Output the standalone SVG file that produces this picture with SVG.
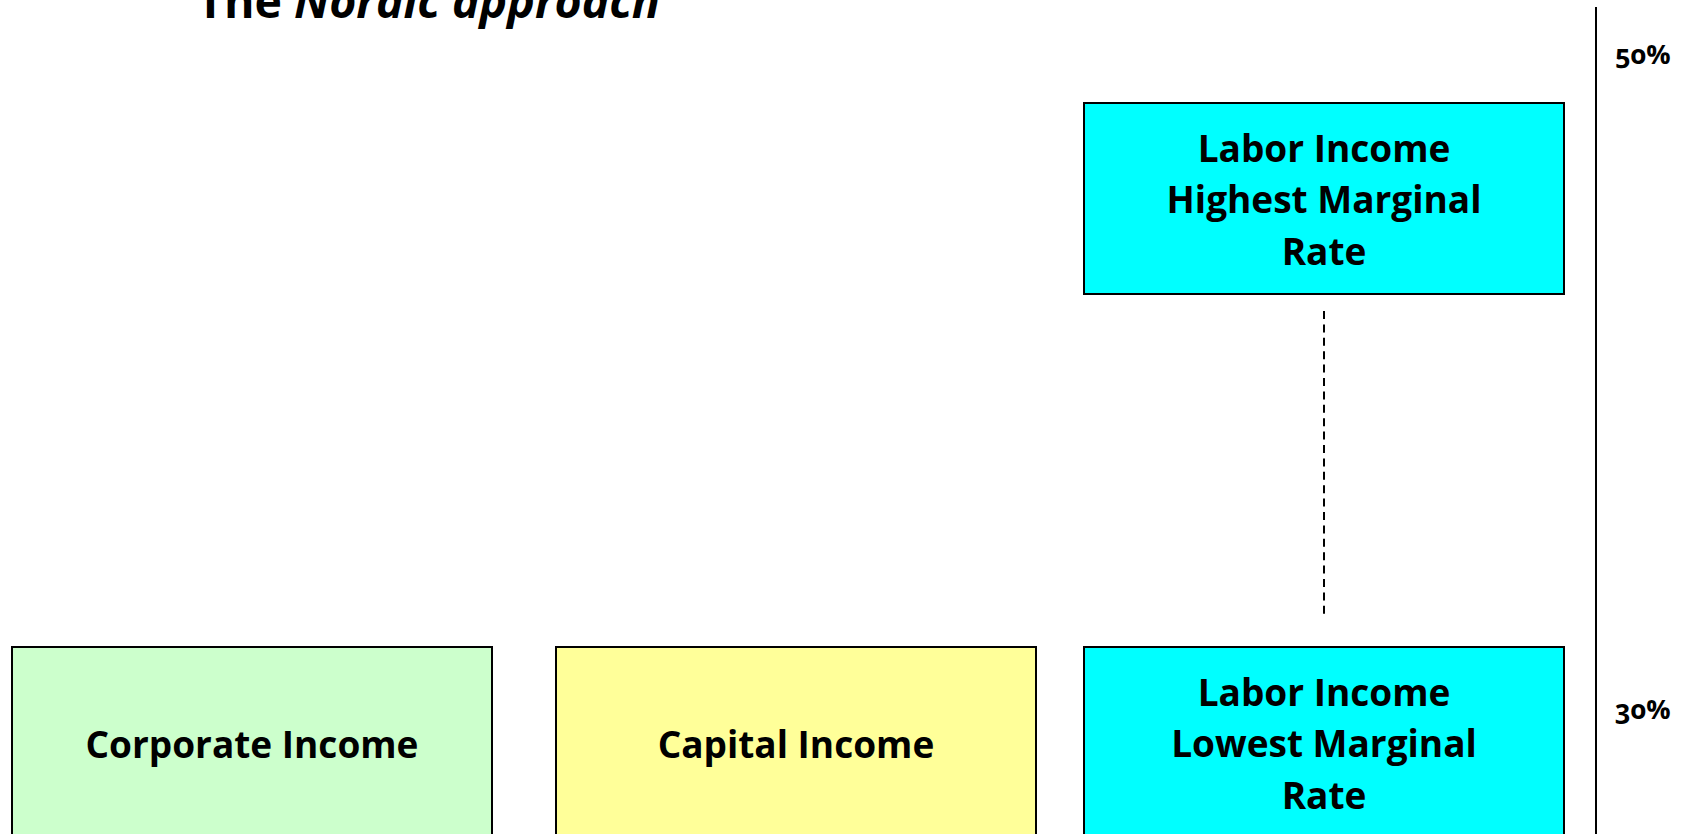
<svg xmlns="http://www.w3.org/2000/svg" width="1685" height="834" viewBox="0 0 1685 834">
<style>
.box{stroke:#000;stroke-width:2}
.lbl{font-family:"Open Sans","Noto Sans",sans-serif;font-weight:bold;font-size:37px;fill:#000;text-anchor:middle}
.pct{font-family:"Open Sans","Noto Sans",sans-serif;font-weight:bold;font-size:27px;fill:#000;font-variant-numeric:oldstyle-nums}
</style>
<rect width="1685" height="834" fill="#fff"/>
<g id="title"><text x="197" y="18" font-family="'Open Sans','Noto Sans',sans-serif" font-weight="bold" font-size="46.5" fill="#000">The <tspan font-style="italic">Nordic approach</tspan></text></g>
<g id="axis">
<line x1="1596" y1="7" x2="1596" y2="834" stroke="#000" stroke-width="2"/>
<text class="pct" x="1615" y="64">50%</text>
<text class="pct" x="1615" y="719">30%</text>
</g>
<g id="labor-high">
<rect class="box" x="1084" y="103" width="480" height="191" fill="#00FFFF"/>
<text class="lbl" x="1324" y="162">Labor Income</text>
<text class="lbl" x="1324" y="213">Highest Marginal</text>
<text class="lbl" x="1324" y="265">Rate</text>
</g>
<g id="corporate">
<rect class="box" x="12" y="647" width="480" height="200" fill="#CCFFCC"/>
<text class="lbl" x="252" y="758">Corporate Income</text>
</g>
<g id="capital">
<rect class="box" x="556" y="647" width="480" height="200" fill="#FFFF99"/>
<text class="lbl" x="796" y="758">Capital Income</text>
</g>
<g id="labor-low">
<rect class="box" x="1084" y="647" width="480" height="200" fill="#00FFFF"/>
<text class="lbl" x="1324" y="706">Labor Income</text>
<text class="lbl" x="1324" y="757">Lowest Marginal</text>
<text class="lbl" x="1324" y="809">Rate</text>
</g>
<g id="connectors">
<line x1="1324" y1="311" x2="1324" y2="615" stroke="#000" stroke-width="2" stroke-dasharray="8 5.4"/>
</g>
</svg>
